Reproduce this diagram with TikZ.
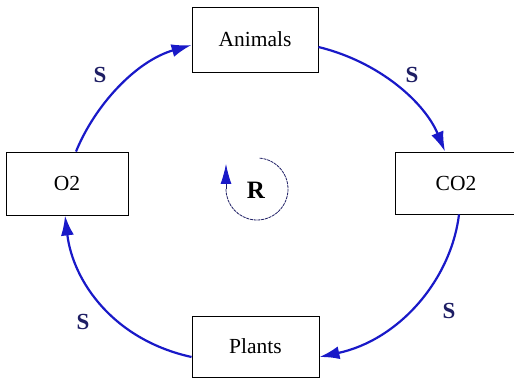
\documentclass[tikz,border=0pt]{standalone}
\usepackage{fontspec}
\setmainfont{Liberation Serif}
\usetikzlibrary{arrows.meta,calc}
\definecolor{arrowblue}{RGB}{25,25,200}
\definecolor{labelnavy}{RGB}{30,30,100}
\begin{document}
\begin{tikzpicture}[x=1pt,y=-1pt,
  box/.style={draw=black,line width=0.9pt,fill=white,inner sep=0pt,font=\fontsize{21.5}{24}\selectfont},
  link/.style={draw=arrowblue,line width=2.2pt,-{Latex[length=20pt,width=13pt]}},
  slabel/.style={text=labelnavy,font=\fontsize{23}{25}\selectfont\bfseries},
  rline/.style={draw=labelnavy,line width=0.8pt,dash pattern=on 3pt off 0.8pt},
]
\useasboundingbox (0,0) rectangle (514,379);
\node[box,minimum width=126pt,minimum height=65pt] (animals) at (255,39.5) {Animals};
\node[box,minimum width=122pt,minimum height=63pt] (o2) at (67,183.5) {O2};
\node[box,minimum width=122pt,minimum height=62pt] (co2) at (456,183) {CO2};
\node[box,minimum width=127pt,minimum height=61pt] (plants) at (255.5,346.5) {Plants};

\draw[link] ($(o2.north)+(9,0)$) .. controls (95,105) and (136,61) .. ($(animals.west)+(0,5.5)$);
\draw[link] ($(animals.east)+(0,7.5)$) .. controls (380,62) and (425,103) .. ($(co2.north)+(-11,0)$);
\draw[link] ($(co2.south)+(3,0)$) .. controls (451,280) and (399,340) .. ($(plants.east)+(0,10.5)$);
\draw[link] ($(plants.west)+(0,10.5)$) .. controls (114,340) and (73,282) .. ($(o2.south)+(-2,0)$);

\node[slabel] (s1) at (100,75) {S};
\node[slabel] (s2) at (412,75) {S};
\node[slabel] (s3) at (449,311) {S};
\node[slabel] (s4) at (83,322) {S};

\node[font=\fontsize{25}{27}\selectfont\bfseries] (r) at (256,190) {R};
\coordinate (rc) at (257,189);
\draw[rline] (rc) ++(-85:31) arc[start angle=-85,end angle=180,radius=31] coordinate (rend);
\draw[draw=labelnavy,line width=0.8pt,-{Latex[length=20pt,width=11pt,color=arrowblue]}] (rend) -- ++(0,-25);
\end{tikzpicture}
\end{document}
